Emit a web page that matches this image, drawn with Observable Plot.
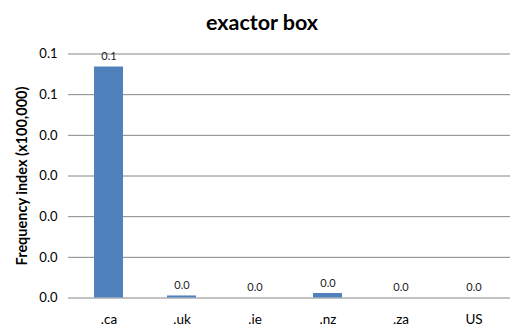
<!DOCTYPE html>
<html><head><meta charset="utf-8">
<script src="https://cdn.jsdelivr.net/npm/d3@7"></script>
<script src="https://cdn.jsdelivr.net/npm/@observablehq/plot@0.6"></script>
<style>
body{margin:0;background:#fff;}
#wrap{width:520px;height:332px;position:relative;font-family:Lato,"Open Sans",sans-serif;}
#title{height:40px;line-height:44px;text-align:center;font-weight:bold;font-size:21.5px;color:#000;padding-left:4px;}
</style>
</head><body>
<div id="wrap"><div id="title">exactor box</div><div id="chart"></div></div>
<script>
const categories = [".ca", ".uk", ".ie", ".nz", ".za", "US"];
const values = [0.0568, 0.0005, 0, 0.0011, 0, 0];
const valueLabels = ["0.1", "0.0", "0.0", "0.0", "0.0", "0.0"];
const yTicks = [0, 0.01, 0.02, 0.03, 0.04, 0.05, 0.06];
const yTickLabels = ["0.0", "0.0", "0.0", "0.0", "0.0", "0.1", "0.1"];
const yTitle = "Frequency index (x100,000)";

const data = categories.map((c, i) => ({cat: c, v: values[i], lab: valueLabels[i]}));
const fmt = new Map(yTicks.map((t, i) => [t, yTickLabels[i]]));

const chart = Plot.plot({
  width: 520, height: 292,
  marginTop: 13.5, marginBottom: 34.5, marginLeft: 72, marginRight: 10,
  style: {fontFamily: "Lato, 'Open Sans', sans-serif", background: "#fff", overflow: "visible"},
  x: {domain: categories, paddingInner: 0.6, paddingOuter: 0.3, label: null},
  y: {domain: [0, 0.06], label: null},
  marks: [
    Plot.ruleY(yTicks, {stroke: "#868686", insetLeft: -4}),
    Plot.ruleX([0], {frameAnchor: "left", stroke: "#868686"}),
    Plot.axisY(yTicks, {tickSize: 0, tickPadding: 15, fontSize: 13, fill: "#000", tickFormat: d => fmt.get(d)}),
    Plot.axisX({tickSize: 0, tickPadding: 16, fontSize: 13.5, fill: "#000"}),
    Plot.barY(data, {x: "cat", y: "v", fill: "#4F81BD"}),
    Plot.text(data, {x: "cat", y: "v", text: "lab", dy: -7, lineAnchor: "bottom", fontSize: 11, fill: "#222"}),
    Plot.text([yTitle], {frameAnchor: "left", textAnchor: "middle", rotate: -90, dx: -50, fontWeight: "bold", fontSize: 14.5, fill: "#000"})
  ]
});
document.getElementById("chart").appendChild(chart);
</script>
</body></html>
